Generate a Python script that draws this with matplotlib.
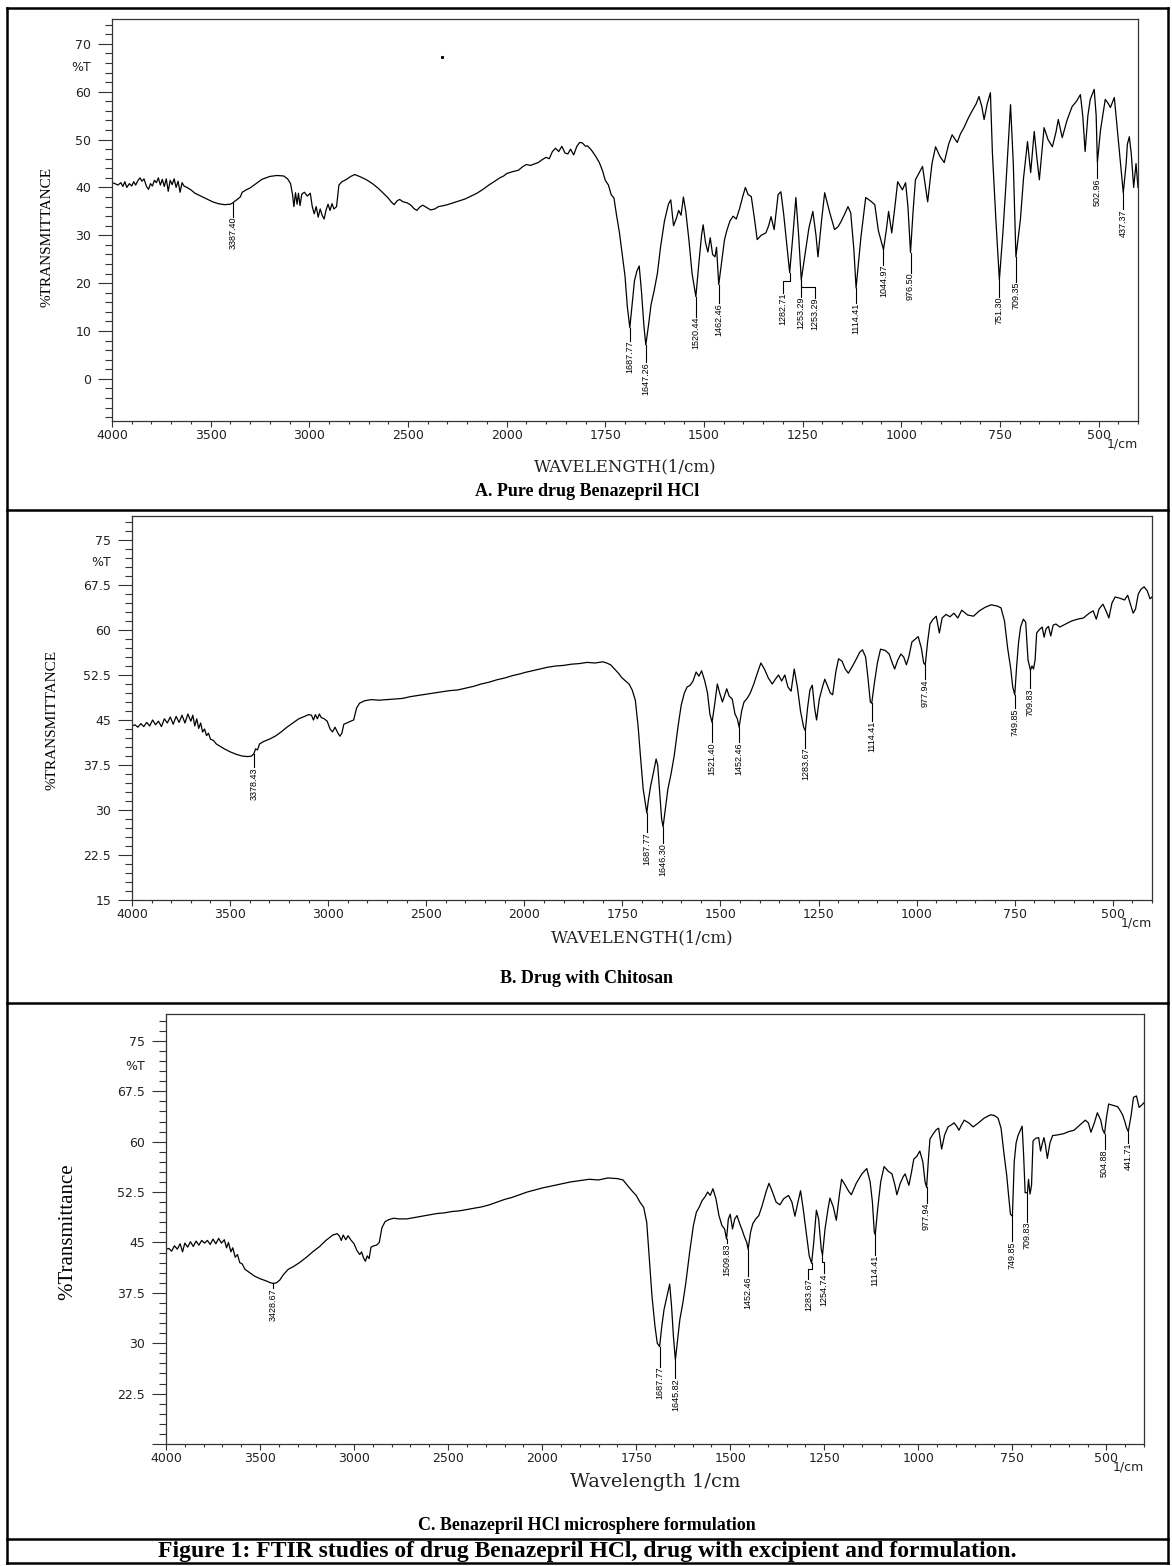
import numpy as np
import matplotlib.pyplot as plt
from matplotlib.lines import Line2D
from matplotlib.ticker import FixedLocator

W, H = 1172, 1566

# ---- A. pure drug : (wavenumber, %T)
wn_a = [4000, 3985, 3970, 3955, 3945, 3935, 3925, 3912, 3900, 3890, 3880, 3868, 3858, 3848,
        3838, 3825, 3815, 3805, 3795, 3785, 3775, 3765, 3755, 3745, 3735, 3725, 3715, 3705,
        3695, 3685, 3675, 3665, 3655, 3645, 3635, 3620, 3600, 3580, 3550, 3520, 3490, 3460,
        3430, 3400, 3387.40, 3375, 3365, 3350, 3340, 3320, 3300, 3270, 3240, 3200, 3165, 3130,
        3110, 3095, 3085, 3078, 3070, 3062, 3055, 3047, 3038, 3025, 3010, 2995, 2985, 2975,
        2965, 2955, 2945, 2935, 2925, 2915, 2905, 2895, 2885, 2875, 2862, 2850, 2835, 2815,
        2790, 2770, 2740, 2710, 2680, 2650, 2625, 2600, 2585, 2570, 2555, 2542, 2525, 2505,
        2485, 2470, 2455, 2440, 2425, 2405, 2385, 2365, 2345, 2320, 2300, 2270, 2240, 2210,
        2180, 2150, 2120, 2090, 2060, 2035, 2015, 2000, 1985, 1970, 1960, 1950, 1940, 1930,
        1920, 1910, 1900, 1892, 1884, 1876, 1868, 1860, 1852, 1845, 1838, 1830, 1822, 1815,
        1808, 1800, 1795, 1785, 1775, 1765, 1757, 1750, 1742, 1735, 1728, 1722, 1714, 1707,
        1700, 1694, 1687.77, 1682, 1676, 1670, 1664, 1658, 1652, 1647.26, 1640, 1634, 1626, 1618,
        1610, 1600, 1590, 1584, 1577, 1570, 1564, 1558, 1552, 1546, 1538, 1530, 1520.44, 1513,
        1506, 1502, 1496, 1490, 1484, 1478, 1472, 1468, 1462.46, 1455, 1448, 1442, 1434, 1426,
        1418, 1410, 1402, 1395, 1388, 1380, 1372, 1365, 1355, 1343, 1336, 1330, 1322, 1312,
        1305, 1298, 1290, 1282.71, 1274, 1267, 1260, 1253.29, 1242, 1234, 1224, 1216, 1211, 1202,
        1194, 1182, 1169, 1160, 1153, 1143, 1135, 1128, 1120, 1114.41, 1102, 1090, 1078, 1067,
        1058, 1044.97, 1038, 1032, 1024, 1016, 1009, 997, 989, 983, 976.50, 970, 964, 955,
        946, 940, 933, 922, 913, 902, 891, 880, 871, 858, 850, 841, 830, 821,
        810, 803, 796, 790, 782, 774, 769, 760, 751.30, 742, 735, 728, 723, 716,
        709.35, 698, 690, 680, 672, 663, 656, 650, 644, 638, 628, 617, 608, 602,
        592, 580, 567, 556, 546, 540, 534, 527, 521, 511, 506, 502.96, 495, 483,
        475, 470, 460, 450, 437.37, 430, 427, 422, 417, 411, 405, 400]
t_a = [41.0, 40.8, 40.5, 41.0, 40.2, 41.2, 40.0, 40.8, 40.3, 41.2, 40.5, 41.5, 42.0, 41.3,
       41.8, 40.2, 39.6, 40.8, 40.3, 41.5, 41.0, 42.0, 40.5, 41.7, 40.2, 41.8, 39.2, 41.5,
       40.6, 41.8, 40.0, 41.3, 39.0, 41.0, 40.3, 40.0, 39.5, 38.8, 38.2, 37.6, 37.0, 36.6,
       36.4, 36.5, 36.8, 37.2, 37.5, 38.0, 39.0, 39.5, 39.9, 40.8, 41.7, 42.3, 42.5, 42.4,
       41.8, 40.8, 38.5, 36.0, 38.9, 36.5, 38.8, 36.2, 38.6, 39.0, 38.2, 38.8, 36.0, 34.5,
       36.0, 33.8, 35.5, 34.2, 33.4, 35.3, 36.5, 35.2, 36.6, 35.5, 36.0, 40.5, 41.2, 41.6,
       42.3, 42.7, 42.2, 41.6, 40.8, 39.8, 38.8, 37.8, 37.0, 36.4, 37.2, 37.5, 37.0, 36.8,
       36.3, 35.6, 35.2, 35.9, 36.3, 35.8, 35.3, 35.5, 36.0, 36.2, 36.4, 36.8, 37.2, 37.6,
       38.2, 38.8, 39.6, 40.5, 41.3, 42.0, 42.4, 42.9, 43.3, 43.6, 44.3, 44.8, 44.6, 44.9,
       45.2, 45.8, 46.3, 46.0, 47.5, 48.2, 47.5, 48.6, 47.2, 47.0, 48.0, 46.8, 48.6, 49.4,
       49.3, 48.6, 48.7, 47.8, 46.6, 45.2, 43.5, 41.5, 40.5, 38.5, 37.8, 34.5, 30.5, 26.0,
       21.5, 15.0, 10.7, 15.5, 20.5, 22.5, 23.6, 18.0, 11.0, 7.1, 11.5, 15.5, 18.5, 22.0,
       27.5, 33.0, 36.5, 37.4, 32.0, 33.5, 35.2, 34.2, 38.0, 35.0, 29.0, 22.0, 17.2, 24.0,
       30.0, 32.2, 28.5, 26.5, 29.5, 26.0, 25.5, 27.5, 19.7, 24.5, 29.0, 31.0, 33.0, 34.0,
       33.4, 35.5, 38.0, 40.0, 38.5, 38.1, 33.5, 29.1, 30.0, 30.5, 32.0, 33.9, 31.2, 38.5,
       39.1, 34.5, 28.0, 22.2, 30.5, 37.9, 30.0, 20.7, 27.0, 31.5, 35.0, 30.0, 25.5, 33.0,
       38.9, 35.0, 31.2, 31.8, 32.8, 34.5, 36.0, 34.7, 27.0, 19.0, 29.7, 37.9, 37.2, 36.4,
       31.0, 27.0, 31.0, 35.0, 30.5, 36.0, 41.2, 39.5, 41.0, 36.0, 26.4, 35.0, 41.6, 43.0,
       44.4, 41.0, 37.0, 45.0, 48.5, 46.5, 45.2, 49.0, 51.0, 49.4, 51.2, 52.5, 54.5, 55.9,
       57.5, 59.0, 57.0, 54.2, 57.5, 59.8, 47.3, 33.0, 20.7, 31.0, 40.2, 50.0, 57.3, 45.0,
       25.5, 33.3, 42.0, 49.6, 43.1, 51.7, 46.0, 41.6, 47.0, 52.5, 50.0, 48.5, 51.5, 54.2,
       50.4, 54.0, 56.9, 58.0, 59.4, 55.0, 47.5, 55.0, 58.4, 60.5, 55.0, 45.2, 52.0, 58.4,
       57.5, 56.7, 58.8, 50.0, 38.9, 45.0, 49.0, 50.6, 47.0, 40.0, 45.0, 40.0]
peaks_a = [3387.40, 1687.77, 1647.26, 1520.44, 1462.46, 1282.71, 1253.29, 1253.29, 1114.41,
           1044.97, 976.50, 751.30, 709.35, 502.96, 437.37]
text_x_a = [3387.40, 1687.77, 1647.26, 1520.44, 1462.46, 1300, 1253.29, 1218, 1114.41,
            1044.97, 976.50, 751.30, 709.35, 502.96, 437.37]
text_top_a = [33.9, 8.0, 3.5, 13.0, 15.9, 18.0, 17.2, 17.0, 15.9, 23.8, 22.2, 17.2, 20.3, 42.0, 35.4]

# ---- B. drug with chitosan
wn_b = [4000, 3985, 3970, 3955, 3940, 3925, 3910, 3895, 3880, 3865, 3850, 3835, 3820, 3805,
        3790, 3775, 3760, 3745, 3730, 3715, 3700, 3690, 3680, 3670, 3660, 3650, 3640, 3630,
        3620, 3610, 3600, 3585, 3570, 3550, 3530, 3500, 3470, 3440, 3410, 3390, 3378.43, 3370,
        3360, 3350, 3330, 3300, 3270, 3240, 3210, 3180, 3150, 3120, 3100, 3085, 3075, 3065,
        3055, 3045, 3035, 3020, 3005, 2990, 2978, 2965, 2950, 2940, 2930, 2920, 2905, 2885,
        2870, 2855, 2840, 2815, 2780, 2740, 2700, 2660, 2620, 2580, 2540, 2500, 2460, 2420,
        2380, 2340, 2300, 2260, 2220, 2180, 2140, 2100, 2060, 2020, 2000, 1980, 1960, 1940,
        1920, 1900, 1880, 1860, 1840, 1820, 1800, 1790, 1780, 1770, 1760, 1752, 1742, 1733,
        1725, 1717, 1710, 1704, 1697, 1687.77, 1684, 1678, 1670, 1664, 1660, 1655, 1650, 1646.30,
        1640, 1634, 1626, 1618, 1608, 1600, 1592, 1585, 1577, 1570, 1562, 1555, 1548, 1540,
        1533, 1527, 1521.40, 1515, 1508, 1502, 1495, 1490, 1484, 1478, 1470, 1463, 1457, 1452.46,
        1446, 1440, 1432, 1424, 1415, 1405, 1397, 1388, 1378, 1368, 1360, 1352, 1344, 1336,
        1328, 1320, 1312, 1304, 1296, 1288, 1283.67, 1278, 1272, 1266, 1260, 1255, 1248, 1240,
        1234, 1226, 1220, 1214, 1206, 1199, 1190, 1182, 1174, 1165, 1155, 1145, 1138, 1130,
        1124, 1118, 1114.41, 1108, 1100, 1092, 1080, 1070, 1062, 1056, 1048, 1040, 1033, 1026,
        1020, 1012, 1003, 996, 988, 982, 977.94, 972, 966, 958, 950, 942, 935, 925,
        915, 905, 895, 885, 870, 855, 840, 825, 810, 795, 785, 776, 768, 760,
        755, 749.85, 745, 740, 735, 728, 722, 716, 709.83, 706, 702, 698, 694, 688,
        680, 675, 670, 664, 658, 652, 645, 635, 620, 605, 590, 575, 560, 550,
        542, 535, 525, 516, 510, 502, 494, 482, 470, 462, 455, 448, 442, 435,
        428, 420, 412, 405, 400]
t_b = [44.0, 44.2, 43.8, 44.4, 43.9, 44.6, 44.0, 45.0, 44.2, 44.8, 43.9, 45.2, 44.5, 45.5,
       44.3, 45.6, 44.6, 45.8, 44.5, 46.0, 44.8, 45.8, 44.0, 45.2, 43.6, 44.5, 43.0, 43.5,
       42.4, 42.8, 41.8, 41.6, 41.0, 40.6, 40.2, 39.7, 39.3, 39.0, 38.9, 39.0, 39.4, 40.2,
       40.0, 41.0, 41.4, 41.8, 42.3, 43.0, 43.8, 44.5, 45.2, 45.6, 45.9, 45.8, 45.0, 45.9,
       45.2, 46.0, 45.4, 45.2, 44.8, 43.5, 43.0, 43.8, 42.8, 42.3, 42.8, 44.3, 44.5, 44.8,
       45.0, 47.0, 47.8, 48.2, 48.4, 48.3, 48.4, 48.5, 48.6, 48.9, 49.1, 49.3, 49.5, 49.7,
       49.9, 50.0, 50.3, 50.6, 51.0, 51.3, 51.7, 52.0, 52.4, 52.7, 52.9, 53.2, 53.5, 53.8,
       54.0, 54.1, 54.3, 54.4, 54.6, 54.5, 54.7, 54.5, 54.2, 53.5, 52.8, 52.1, 51.5, 51.0,
       50.0, 48.3, 44.0, 39.0, 33.5, 29.5, 31.5, 34.0, 36.5, 38.5, 37.5, 33.0, 28.5, 27.2,
       30.5, 33.5, 36.0, 39.0, 44.0, 47.5, 49.5, 50.5, 50.8, 51.5, 53.0, 52.3, 53.2, 51.5,
       49.5, 46.0, 44.6, 47.5, 51.0, 49.5, 48.0, 49.0, 50.2, 49.0, 48.5, 46.0, 45.2, 43.8,
       46.5, 48.0, 48.6, 49.5, 51.0, 53.0, 54.5, 53.5, 52.0, 51.0, 51.8, 52.5, 51.5, 52.5,
       50.5, 49.8, 53.5, 50.5, 46.5, 43.8, 43.2, 47.0, 50.0, 50.8, 47.0, 45.0, 48.5, 50.5,
       51.8, 50.5, 49.5, 49.2, 53.0, 55.2, 54.8, 53.5, 52.8, 53.8, 55.0, 56.3, 56.7, 55.5,
       52.0, 48.0, 47.8, 51.0, 54.5, 56.8, 56.6, 56.0, 54.5, 53.5, 55.0, 56.0, 55.5, 54.2,
       55.5, 58.0, 58.5, 58.9, 57.0, 54.5, 54.2, 58.0, 61.0, 61.8, 62.3, 59.5, 62.0, 62.6,
       62.2, 62.8, 62.0, 63.3, 62.5, 62.3, 63.2, 63.8, 64.2, 64.0, 63.7, 61.5, 57.0, 53.5,
       50.5, 49.2, 54.0, 58.0, 60.5, 61.8, 61.3, 55.0, 53.3, 54.0, 53.5, 55.0, 59.5, 60.0,
       60.5, 58.8, 60.2, 60.6, 59.0, 60.8, 61.0, 60.5, 61.0, 61.5, 61.8, 62.0, 62.8, 63.2,
       61.8, 63.5, 64.3, 63.0, 62.0, 64.5, 65.5, 65.3, 65.0, 65.8, 64.3, 62.8, 63.5, 66.0,
       66.8, 67.2, 66.5, 65.2, 65.5]
peaks_b = [3378.43, 1687.77, 1646.30, 1521.40, 1452.46, 1283.67, 1114.41, 977.94, 749.85, 709.83]
text_x_b = peaks_b
text_top_b = [37.1, 26.3, 24.5, 41.3, 41.3, 40.4, 44.8, 51.8, 47.0, 50.3]

# ---- C. microsphere formulation
wn_c = [4000, 3985, 3970, 3955, 3940, 3925, 3912, 3900, 3885, 3870, 3855, 3840, 3825, 3810,
        3795, 3780, 3765, 3750, 3735, 3720, 3705, 3690, 3678, 3668, 3655, 3645, 3632, 3620,
        3608, 3595, 3580, 3560, 3530, 3500, 3470, 3445, 3428.67, 3412, 3395, 3376, 3350, 3323,
        3290, 3253, 3220, 3183, 3150, 3113, 3090, 3079, 3068, 3058, 3044, 3032, 3018, 3000,
        2985, 2970, 2960, 2950, 2940, 2930, 2920, 2910, 2895, 2880, 2866, 2852, 2835, 2815,
        2790, 2760, 2720, 2680, 2640, 2600, 2560, 2520, 2480, 2440, 2400, 2360, 2320, 2280,
        2240, 2200, 2160, 2120, 2080, 2040, 2000, 1975, 1950, 1925, 1900, 1875, 1850, 1825,
        1800, 1785, 1772, 1760, 1750, 1740, 1730, 1722, 1715, 1708, 1700, 1694, 1687.77, 1682,
        1676, 1670, 1665, 1661, 1656, 1651, 1645.82, 1640, 1634, 1626, 1618, 1608, 1598, 1590,
        1582, 1575, 1567, 1560, 1553, 1546, 1538, 1530, 1522, 1515, 1509.83, 1505, 1500, 1494,
        1488, 1482, 1475, 1468, 1462, 1456, 1452.46, 1446, 1440, 1432, 1424, 1415, 1405, 1397,
        1389, 1378, 1368, 1358, 1345, 1336, 1328, 1320, 1313, 1306, 1298, 1290, 1283.67, 1278,
        1271, 1265, 1258, 1254.74, 1248, 1240, 1235, 1226, 1218, 1210, 1204, 1195, 1185, 1178,
        1165, 1150, 1137, 1128, 1122, 1117, 1114.41, 1108, 1100, 1091, 1080, 1070, 1062, 1057,
        1048, 1040, 1035, 1025, 1018, 1012, 1004, 996, 988, 982, 977.94, 973, 969, 960,
        952, 946, 938, 930, 921, 912, 905, 898, 892, 885, 878, 866, 854, 840,
        825, 815, 807, 798, 788, 780, 772, 765, 760, 755, 749.85, 745, 740, 735,
        728, 724, 720, 716, 709.83, 707, 703, 699, 695, 688, 680, 675, 670, 666,
        662, 657, 650, 643, 630, 613, 600, 586, 570, 556, 548, 541, 532, 524,
        515, 510, 504.88, 500, 494, 482, 470, 463, 457, 451, 446, 441.71, 434, 428,
        420, 413, 405, 400]
t_c = [44.0, 44.1, 43.7, 44.5, 44.0, 44.8, 43.6, 44.9, 44.3, 45.1, 44.4, 45.2, 44.6, 45.3,
       44.9, 45.3, 44.7, 45.5, 44.8, 45.6, 44.9, 45.4, 44.2, 45.0, 43.6, 44.2, 42.8, 43.2,
       42.0, 41.8, 41.0, 40.6, 40.0, 39.6, 39.3, 39.0, 38.9, 39.0, 39.4, 40.2, 41.0, 41.4,
       42.0, 42.8, 43.6, 44.4, 45.3, 46.1, 46.3, 46.0, 45.3, 46.1, 45.4, 46.0, 45.4, 44.8,
       43.8, 43.2, 43.6, 42.7, 42.2, 43.0, 42.6, 44.3, 44.5, 44.6, 45.0, 47.2, 48.1, 48.4,
       48.6, 48.5, 48.5, 48.7, 48.9, 49.1, 49.3, 49.4, 49.6, 49.7, 49.9, 50.1, 50.3, 50.6,
       51.0, 51.4, 51.7, 52.1, 52.5, 52.8, 53.1, 53.4, 53.7, 54.0, 54.2, 54.4, 54.3, 54.6,
       54.5, 54.3, 53.4, 52.6, 52.0, 51.0, 50.2, 48.0, 42.5, 37.0, 32.5, 30.0, 29.5, 32.5,
       35.0, 36.5, 37.8, 38.8, 35.5, 31.0, 27.5, 30.5, 33.5, 36.0, 39.0, 43.5, 47.5, 49.5,
       50.3, 51.2, 51.8, 52.5, 52.0, 53.0, 51.5, 49.0, 47.5, 47.0, 45.5, 48.5, 49.2, 47.0,
       48.5, 49.0, 47.8, 46.8, 45.8, 45.0, 44.0, 46.5, 47.8, 48.5, 49.0, 50.5, 52.5, 53.8,
       52.7, 51.0, 50.6, 51.5, 52.0, 51.0, 48.9, 51.0, 52.7, 50.0, 46.5, 43.0, 41.9, 45.0,
       49.8, 48.5, 44.0, 43.1, 47.0, 50.0, 51.6, 50.3, 48.3, 52.0, 54.4, 53.6, 52.6, 52.1,
       53.8, 55.2, 56.0, 54.0, 51.0, 46.5, 46.2, 50.0, 54.0, 56.3, 55.6, 55.2, 53.5, 52.1,
       53.8, 54.8, 55.2, 53.5, 55.5, 57.4, 57.8, 58.6, 57.0, 54.0, 53.2, 57.5, 60.4, 61.2,
       61.8, 62.0, 58.9, 61.0, 62.2, 62.5, 62.8, 62.3, 61.7, 62.5, 63.2, 62.8, 62.2, 62.8,
       63.5, 63.8, 64.0, 63.9, 63.5, 62.0, 58.1, 55.0, 52.0, 49.2, 48.9, 57.0, 59.8, 60.9,
       61.8, 62.3, 58.0, 52.4, 52.4, 54.4, 52.2, 53.5, 60.1, 60.5, 60.6, 58.6, 59.8, 60.6,
       59.5, 57.5, 59.8, 60.9, 61.0, 61.2, 61.5, 61.7, 62.5, 63.2, 62.8, 61.4, 62.8, 64.3,
       63.2, 61.8, 61.2, 63.5, 65.6, 65.4, 65.2, 64.6, 64.0, 63.0, 62.0, 61.5, 64.0, 66.6,
       66.8, 65.1, 65.5, 65.8]
peaks_c = [3428.67, 1687.77, 1645.82, 1509.83, 1452.46, 1283.67, 1254.74, 1114.41, 977.94,
           749.85, 709.83, 504.88, 441.71]
text_x_c = [3428.67, 1687.77, 1645.82, 1509.83, 1452.46, 1292, 1250, 1114.41, 977.94,
            749.85, 709.83, 504.88, 441.71]
text_top_c = [38.2, 26.5, 24.8, 44.9, 40.0, 39.6, 40.4, 43.1, 50.9, 45.2, 48.1, 58.9, 59.8]

# tick values
x_major = [4000, 3500, 3000, 2500, 2000, 1750, 1500, 1250, 1000, 750, 500]
x_minor = [v for v in list(range(3900, 2000, -100)) + list(range(1950, 399, -50)) if v not in x_major]
ya_ticks = [0, 10, 20, 30, 40, 50, 60, 70]
ybc_ticks = [15, 22.5, 30, 37.5, 45, 52.5, 60, 67.5, 75]
ybc_labels = ['15', '22.5', '30', '37.5', '45', '52.5', '60', '67.5', '75']


def fwd(x):
    x = np.asarray(x, dtype=float)
    return np.where(x >= 2000, x / 500.0, x / 250.0 - 4.0)


def inv(u):
    u = np.asarray(u, dtype=float)
    return np.where(u >= 4, u * 500.0, (u + 4.0) * 250.0)


def box(l, t, r, b):
    return [l / W, 1 - b / H, (r - l) / W, (b - t) / H]


def setup(ax, ylim, yt, ylab, yminor, t_pos):
    ax.set_xscale('function', functions=(fwd, inv))
    ax.set_xlim(4000, 400)
    ax.set_ylim(*ylim)
    ax.xaxis.set_major_locator(FixedLocator(x_major))
    ax.xaxis.set_minor_locator(FixedLocator(x_minor))
    ax.set_xticklabels([str(v) for v in x_major])
    ax.yaxis.set_major_locator(FixedLocator(yt))
    ax.yaxis.set_minor_locator(FixedLocator(yminor))
    ax.set_yticklabels(ylab)
    ax.tick_params(axis='x', which='major', length=4.5, width=0.8, pad=1, labelsize=9,
                   color='#333333', labelcolor='#222222')
    ax.tick_params(axis='x', which='minor', length=2.5, width=0.8, color='#333333')
    ax.tick_params(axis='y', which='major', length=10, width=0.8, pad=5, labelsize=9,
                   color='#333333', labelcolor='#222222')
    ax.tick_params(axis='y', which='minor', length=5, width=0.8, color='#333333')
    for s in ax.spines.values():
        s.set_linewidth(0.9)
        s.set_color('#333333')
    ax.annotate('%T', xy=(0, t_pos), xycoords=('axes fraction', 'data'), xytext=(-15, 0),
                textcoords='offset points', ha='right', va='center', fontsize=9, color='#222222')
    ax.annotate('1/cm', xy=(1, 0), xycoords='axes fraction', xytext=(0, -23),
                textcoords='offset pixels', ha='right', va='center', fontsize=9, color='#222222')


def mark_peaks(ax, wn, tr, peaks, tx, tt):
    xs = np.array(wn)[::-1]
    ys = np.array(tr)[::-1]
    for p, x, top in zip(peaks, tx, tt):
        y0 = np.interp(p, xs, ys)
        if x == p:
            ax.plot([p, p], [y0, top], color='k', lw=0.8)
        else:
            yk = y0 - 0.4 * (y0 - top)
            ax.plot([p, p, x, x], [y0, yk, yk, top], color='k', lw=0.8)
        ax.text(x, top, f'{p:.2f}', rotation=90, ha='center', va='top', fontsize=6.5,
                family='Liberation Sans')


fig = plt.figure(figsize=(W / 100, H / 100), dpi=100)

# panel A
ax_a = fig.add_axes(box(112, 19, 1138, 421))
ax_a.plot(wn_a, t_a, color='k', lw=0.9)
ax_a.plot([2330], [67.2], 's', color='k', ms=1.2)
setup(ax_a, (-8.8, 75.2), ya_ticks, [str(v) for v in ya_ticks], list(range(-8, 76, 2)), 65)
mark_peaks(ax_a, wn_a, t_a, peaks_a, text_x_a, text_top_a)
ax_a.set_xlabel('WAVELENGTH(1/cm)', family='DejaVu Serif', fontsize=12, labelpad=12, color='#222222')
fig.text(47 / W, 1 - 237 / H, '%TRANSMITTANCE', rotation=90, ha='center', va='center',
         family='Liberation Serif', fontsize=11)

# panel B
ax_b = fig.add_axes(box(132, 516, 1152, 900))
ax_b.plot(wn_b, t_b, color='k', lw=0.9)
setup(ax_b, (15, 79), ybc_ticks, ybc_labels, list(np.arange(15, 79.1, 1.5)), 71.25)
mark_peaks(ax_b, wn_b, t_b, peaks_b, text_x_b, text_top_b)
ax_b.set_xlabel('WAVELENGTH(1/cm)', family='DejaVu Serif', fontsize=12, labelpad=6, color='#222222')
fig.text(52 / W, 1 - 720 / H, '%TRANSMITTANCE', rotation=90, ha='center', va='center',
         family='Liberation Serif', fontsize=11)

# panel C
ax_c = fig.add_axes(box(166, 1014, 1144, 1444))
ax_c.plot(wn_c, t_c, color='k', lw=0.9)
setup(ax_c, (15, 79), ybc_ticks, [''] + ybc_labels[1:], list(np.arange(15, 79.1, 1.5)), 71.25)
mark_peaks(ax_c, wn_c, t_c, peaks_c, text_x_c, text_top_c)
ax_c.set_xlabel('Wavelength 1/cm', family='DejaVu Serif', fontsize=14, labelpad=6, color='#222222')
fig.text(68 / W, 1 - 1232 / H, '%Transmittance', rotation=90, ha='center', va='center',
         family='Liberation Serif', fontsize=15)

# captions
cx = 587 / W
fig.text(cx, 1 - 492 / H, 'A. Pure drug Benazepril HCl', ha='center', va='center',
         family='Liberation Serif', fontweight='bold', fontsize=13)
fig.text(cx, 1 - 978 / H, 'B. Drug with Chitosan', ha='center', va='center',
         family='Liberation Serif', fontweight='bold', fontsize=13)
fig.text(cx, 1 - 1526 / H, 'C. Benazepril HCl microsphere formulation', ha='center', va='center',
         family='Liberation Serif', fontweight='bold', fontsize=13)
fig.text(cx, 1 - 1551 / H,
         'Figure 1: FTIR studies of drug Benazepril HCl, drug with excipient and formulation.',
         ha='center', va='center', family='Liberation Serif', fontweight='bold', fontsize=17)

# table frame
for x0, y0, x1, y1 in [(7, 8, 1168, 8), (7, 1563, 1168, 1563), (7, 8, 7, 1563),
                       (1168, 8, 1168, 1563), (7, 510, 1168, 510), (7, 1003, 1168, 1003),
                       (7, 1539, 1168, 1539)]:
    fig.add_artist(Line2D([x0 / W, x1 / W], [1 - y0 / H, 1 - y1 / H], transform=fig.transFigure,
                          color='k', lw=1.8))

fig.savefig('out.png', dpi=100)
